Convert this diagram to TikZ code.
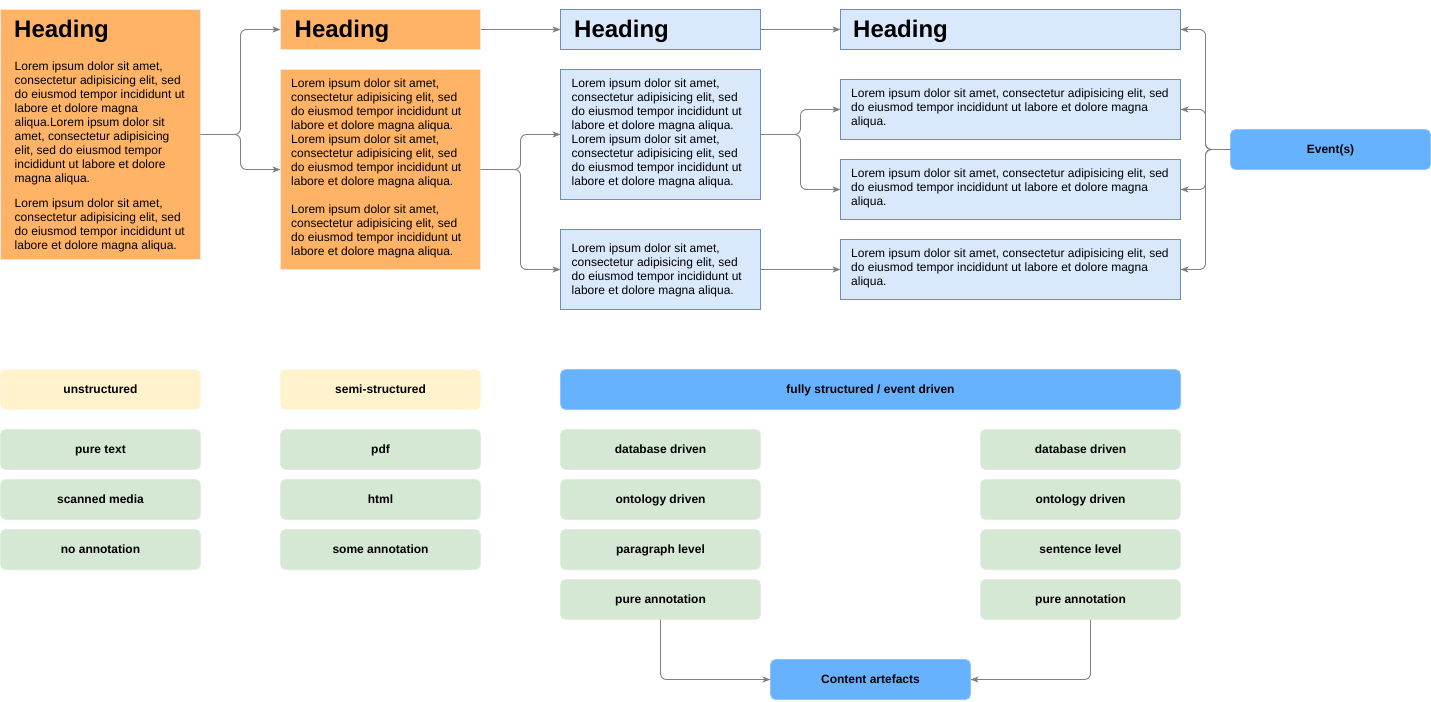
\documentclass[tikz,border=0pt]{standalone}
\usepackage{fontspec}
\setmainfont{Liberation Sans}
\usetikzlibrary{arrows.meta}
\definecolor{orangefill}{HTML}{FFB366}
\definecolor{orangeline}{HTML}{E8E8E8}
\definecolor{bluefill}{HTML}{DAE8FC}
\definecolor{blueline}{HTML}{6C8EBF}
\definecolor{strongblue}{HTML}{66B2FF}
\definecolor{strongblueline}{HTML}{8CC5FF}
\definecolor{yellowfill}{HTML}{FFF2CC}
\definecolor{yellowline}{HTML}{FFF6DD}
\definecolor{greenfill}{HTML}{D5E8D4}
\definecolor{greenline}{HTML}{E0EEDF}
\definecolor{connline}{HTML}{808080}
\tikzset{
  box/.style={inner sep=0pt, outer sep=0pt, line width=0.8pt},
  labeltext/.style={font=\fontsize{12}{14}\selectfont\bfseries, text height=8.6pt, text depth=0pt},
  orangebox/.style={box, fill=orangefill, draw=orangeline},
  bluebox/.style={box, fill=bluefill, draw=blueline},
  eventbox/.style={box, labeltext, fill=strongblue, draw=strongblueline, rounded corners=5pt},
  yellowbox/.style={box, labeltext, fill=yellowfill, draw=yellowline, rounded corners=5pt},
  greenbox/.style={box, labeltext, fill=greenfill, draw=greenline, rounded corners=5pt},
  headtext/.style={inner sep=0pt, anchor=base west, font=\fontsize{24}{28}\selectfont\bfseries},
  bodytext/.style={inner sep=0pt, anchor=north west, align=left, font=\fontsize{12}{14}\selectfont},
  conn/.style={draw=connline, line width=0.9pt, rounded corners=6pt, -{Stealth[length=8pt,width=6pt,inset=2pt]}},
}
\begin{document}
\begin{tikzpicture}[x=1pt,y=-1pt]
\useasboundingbox (0,0) rectangle (1431,701);

% ---- top row boxes ----
\node[orangebox, minimum width=200pt, minimum height=250pt] (a) at (100.5,134.5) {};
\node[orangebox, minimum width=200pt, minimum height=40pt] (bh) at (380.5,29.5) {};
\node[orangebox, minimum width=200pt, minimum height=200pt] (bt) at (380.5,169.5) {};
\node[bluebox, minimum width=200pt, minimum height=40pt] (ch) at (660.5,29.5) {};
\node[bluebox, minimum width=200pt, minimum height=130pt] (c1) at (660.5,134.5) {};
\node[bluebox, minimum width=200pt, minimum height=80pt] (c2) at (660.5,269.5) {};
\node[bluebox, minimum width=340pt, minimum height=40pt] (dh) at (1010.5,29.5) {};
\node[bluebox, minimum width=340pt, minimum height=60pt] (d1) at (1010.5,109.5) {};
\node[bluebox, minimum width=340pt, minimum height=60pt] (d2) at (1010.5,189.5) {};
\node[bluebox, minimum width=340pt, minimum height=60pt] (d3) at (1010.5,269.5) {};
\node[eventbox, minimum width=200pt, minimum height=40pt] (ev) at (1330.5,149.5) {Event(s)};

% ---- headings ----
\node[headtext] (ah) at (14,37.3) {Heading};
\node[headtext] (bhh) at (294.5,37.3) {Heading};
\node[headtext] (chh) at (574,37.3) {Heading};
\node[headtext] (dhh) at (853,37.3) {Heading};

% ---- body texts ----
\node[bodytext] (at) at (14.5,60.2) {\strut Lorem ipsum dolor sit amet,\\
consectetur adipisicing elit, sed\\
do eiusmod tempor incididunt ut\\
labore et dolore magna\\
aliqua.Lorem ipsum dolor sit\\
amet, consectetur adipisicing\\
elit, sed do eiusmod tempor\\
incididunt ut labore et dolore\\
magna aliqua.\\[11pt]
Lorem ipsum dolor sit amet,\\
consectetur adipisicing elit, sed\\
do eiusmod tempor incididunt ut\\
labore et dolore magna aliqua.};

\node[bodytext] (btt) at (291,77.2) {\strut Lorem ipsum dolor sit amet,\\
consectetur adipisicing elit, sed\\
do eiusmod tempor incididunt ut\\
labore et dolore magna aliqua.\\
Lorem ipsum dolor sit amet,\\
consectetur adipisicing elit, sed\\
do eiusmod tempor incididunt ut\\
labore et dolore magna aliqua.\\[14pt]
Lorem ipsum dolor sit amet,\\
consectetur adipisicing elit, sed\\
do eiusmod tempor incididunt ut\\
labore et dolore magna aliqua.};

\node[bodytext] (c1t) at (571.5,77.2) {\strut Lorem ipsum dolor sit amet,\\
consectetur adipisicing elit, sed\\
do eiusmod tempor incididunt ut\\
labore et dolore magna aliqua.\\
Lorem ipsum dolor sit amet,\\
consectetur adipisicing elit, sed\\
do eiusmod tempor incididunt ut\\
labore et dolore magna aliqua.};

\node[bodytext] (c2t) at (571.5,242.2) {\strut Lorem ipsum dolor sit amet,\\
consectetur adipisicing elit, sed\\
do eiusmod tempor incididunt ut\\
labore et dolore magna aliqua.};

\node[bodytext] (d1t) at (851,87.2) {\strut Lorem ipsum dolor sit amet, consectetur adipisicing elit, sed\\
do eiusmod tempor incididunt ut labore et dolore magna\\
aliqua.};
\node[bodytext] (d2t) at (851,167.2) {\strut Lorem ipsum dolor sit amet, consectetur adipisicing elit, sed\\
do eiusmod tempor incididunt ut labore et dolore magna\\
aliqua.};
\node[bodytext] (d3t) at (851,247.2) {\strut Lorem ipsum dolor sit amet, consectetur adipisicing elit, sed\\
do eiusmod tempor incididunt ut labore et dolore magna\\
aliqua.};

% ---- top connectors ----
\draw[conn] (a.east) -- ++(40,0) |- (bh.west);
\draw[conn] (a.east) -- ++(40,0) |- (bt.west);
\draw[conn] (bh.east) -- (ch.west);
\draw[conn] (ch.east) -- (dh.west);
\draw[conn] (bt.east) -- ++(40,0) |- (c1.west);
\draw[conn] (bt.east) -- ++(40,0) |- (c2.west);
\draw[conn] (c1.east) -- ++(40,0) |- (d1.west);
\draw[conn] (c1.east) -- ++(40,0) |- (d2.west);
\draw[conn] (c2.east) -- (d3.west);
\draw[conn] (ev.west) -- ++(-25,0) |- (dh.east);
\draw[conn] (ev.west) -- ++(-25,0) |- (d1.east);
\draw[conn] (ev.west) -- ++(-25,0) |- (d2.east);
\draw[conn] (ev.west) -- ++(-25,0) |- (d3.east);

% ---- bottom section ----
\node[yellowbox, minimum width=200pt, minimum height=40pt] (uns) at (100.5,389.5) {unstructured};
\node[yellowbox, minimum width=200pt, minimum height=40pt] (semi) at (380.5,389.5) {semi-structured};
\node[eventbox, minimum width=620pt, minimum height=40pt] (full) at (870.5,389.5) {fully structured / event driven};

\node[greenbox, minimum width=200pt, minimum height=40pt] (g11) at (100.5,449.5) {pure text};
\node[greenbox, minimum width=200pt, minimum height=40pt] (g12) at (100.5,499.5) {scanned media};
\node[greenbox, minimum width=200pt, minimum height=40pt] (g13) at (100.5,549.5) {no annotation};

\node[greenbox, minimum width=200pt, minimum height=40pt] (g21) at (380.5,449.5) {pdf};
\node[greenbox, minimum width=200pt, minimum height=40pt] (g22) at (380.5,499.5) {html};
\node[greenbox, minimum width=200pt, minimum height=40pt] (g23) at (380.5,549.5) {some annotation};

\node[greenbox, minimum width=200pt, minimum height=40pt] (g31) at (660.5,449.5) {database driven};
\node[greenbox, minimum width=200pt, minimum height=40pt] (g32) at (660.5,499.5) {ontology driven};
\node[greenbox, minimum width=200pt, minimum height=40pt] (g33) at (660.5,549.5) {paragraph level};
\node[greenbox, minimum width=200pt, minimum height=40pt] (g34) at (660.5,599.5) {pure annotation};

\node[greenbox, minimum width=200pt, minimum height=40pt] (g41) at (1080.5,449.5) {database driven};
\node[greenbox, minimum width=200pt, minimum height=40pt] (g42) at (1080.5,499.5) {ontology driven};
\node[greenbox, minimum width=200pt, minimum height=40pt] (g43) at (1080.5,549.5) {sentence level};
\node[greenbox, minimum width=200pt, minimum height=40pt] (g44) at (1080.5,599.5) {pure annotation};

\node[eventbox, minimum width=200pt, minimum height=40pt] (ca) at (870.5,679.5) {Content artefacts};

\draw[conn] (g34.south) |- (ca.west);
\draw[conn] ([xshift=10pt]g44.south) |- (ca.east);
\end{tikzpicture}
\end{document}
